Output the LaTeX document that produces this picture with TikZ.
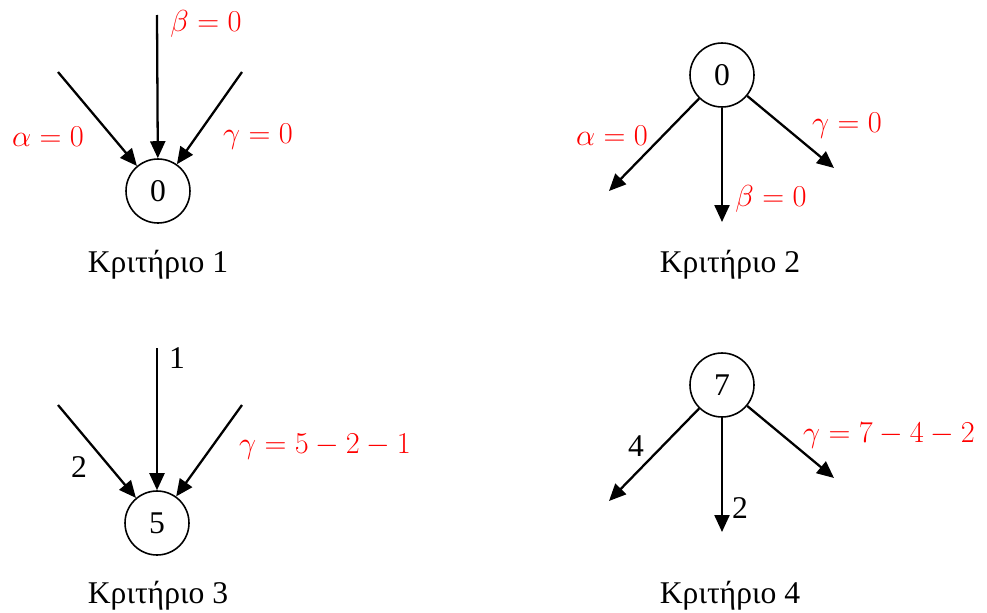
\documentclass[tikz,border=0pt]{standalone}
\usepackage{fontspec}
\setmainfont{Liberation Serif}
\usepackage{tikz}
\usetikzlibrary{arrows.meta,calc,positioning}

\begin{document}
\begin{tikzpicture}[
  x=0.02cm,
  y=-0.02cm,
  vertex/.style={
    draw=black,
    circle,
    line width=0.9pt,
    minimum size=1.28cm,
    inner sep=0pt,
    font=\fontsize{18}{21}\selectfont
  },
  edge/.style={
    -{Triangle[length=0.34cm,width=0.3cm]},
    line width=1.3pt,
    black
  },
  cond/.style={
    text=red,
    inner sep=0pt,
    font=\fontsize{17.9}{21}\selectfont
  },
  flow/.style={
    inner sep=0pt,
    font=\fontsize{18}{21}\selectfont
  },
  caption/.style={
    inner sep=0pt,
    font=\fontsize{18}{21}\selectfont
  }
]

\useasboundingbox (0,0) rectangle (987,612);

% Criterion 1: all incoming
\node[vertex] (v1) at (158,191) {0};
\coordinate (v1a) at (58,72);
\coordinate (v1b) at (157,15);
\coordinate (v1g) at (242,72);

\draw[edge] (v1a) -- (v1);
\draw[edge] (v1b) -- (v1);
\draw[edge] (v1g) -- (v1);

\node[cond] (l1b) at (206,24) {$\beta = 0$};
\node[cond] (l1a) at (48,137) {$\alpha = 0$};
\node[cond] (l1g) at (258,137) {$\gamma = 0$};

\node[caption] (k1) at (158,265) {Κριτήριο 1};

% Criterion 2: all outgoing
\node[vertex] (v2) at (722,75) {0};
\coordinate (v2a) at (609,191);
\coordinate (v2b) at (722,222);
\coordinate (v2g) at (834,168);

\draw[edge] (v2) -- (v2a);
\draw[edge] (v2) -- (v2b);
\draw[edge] (v2) -- (v2g);

\node[cond] (l2a) at (612,136) {$\alpha = 0$};
\node[cond] (l2b) at (771,199) {$\beta = 0$};
\node[cond] (l2g) at (847,126) {$\gamma = 0$};

\node[caption] (k2) at (730,265) {Κριτήριο 2};

% Criterion 3: one missing inflow
\node[vertex] (v3) at (157,523) {5};
\coordinate (v3a) at (58,405);
\coordinate (v3b) at (157,348);
\coordinate (v3g) at (242,405);

\draw[edge] (v3a) -- (v3);
\draw[edge] (v3b) -- (v3);
\draw[edge] (v3g) -- (v3);

\node[flow] (l3b) at (177,358) {1};
\node[flow] (l3a) at (79,467) {2};
\node[cond] (l3g) at (325,447) {$\gamma = 5 - 2 - 1$};

\node[caption] (k3) at (158,596) {Κριτήριο 3};

% Criterion 4: one missing outflow
\node[vertex] (v4) at (722,385) {7};
\coordinate (v4a) at (609,501);
\coordinate (v4b) at (722,532);
\coordinate (v4g) at (834,478);

\draw[edge] (v4) -- (v4a);
\draw[edge] (v4) -- (v4b);
\draw[edge] (v4) -- (v4g);

\node[flow] (l4a) at (636,446) {4};
\node[flow] (l4b) at (740,508) {2};
\node[cond] (l4g) at (889,436) {$\gamma = 7 - 4 - 2$};

\node[caption] (k4) at (730,596) {Κριτήριο 4};

\end{tikzpicture}
\end{document}
